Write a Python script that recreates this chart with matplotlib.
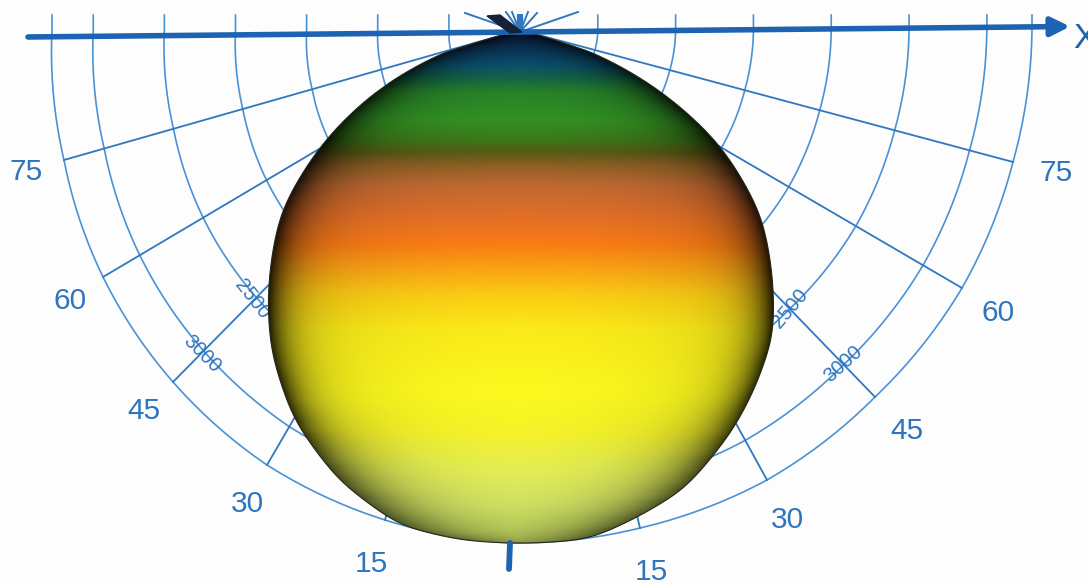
import numpy as np
import matplotlib
matplotlib.use('Agg')
import matplotlib.pyplot as plt
from matplotlib.patches import PathPatch
from matplotlib.path import Path

plt.rcParams['font.family'] = ['Liberation Sans', 'DejaVu Sans']

# polar grid centre in picture coordinates
cx, cy = 520, 30

ring_values = [500, 1000, 1500, 2000, 2500, 3000, 3290]
rim_value = 3290

# where the outer ring sits for each spoke (-90 .. 90, every 15 deg)
rim_dx = [-468, -456, -417, -347, -253, -135, -10, 120, 247, 355, 442, 493, 512]
rim_dy = [0, 130, 247, 352, 435, 490, 513, 498, 450, 367, 258, 132, 0]

# balloon outline: angle from straight down and radius
pattern_angle = [-90, -75, -73.2, -67.2, -60.4, -52.8, -43, -37.8, -30, -21.8, -13.6, -6.7, 0,
                 7.8, 13.9, 19.6, 28.1, 32.8, 39.6, 44.2, 52.4, 60.2, 66.5, 72.6, 75, 90]
pattern_radius = [2, 6, 79, 150, 223, 298, 369, 405, 450, 485, 509, 513, 513,
                  513, 500, 487, 452, 430, 396, 363, 303, 227, 150, 73, 6, 2]

# colour bands of the balloon by picture row
band_y = [32, 45, 65, 78, 92, 120, 140, 152, 165, 185, 215, 245, 270, 295, 330, 390, 430, 470, 505, 530, 545]
band_r = [15, 10, 10, 20, 40, 50, 60, 85, 140, 190, 225, 250, 250, 250, 250, 252, 245, 228, 208, 188, 165]
band_g = [25, 45, 80, 100, 130, 145, 120, 90, 95, 105, 110, 125, 165, 205, 235, 248, 243, 238, 226, 206, 182]
band_b = [45, 80, 110, 70, 40, 35, 25, 20, 35, 50, 40, 20, 20, 20, 25, 30, 40, 85, 100, 90, 85]

# edge darkening by row: darkest value and how far in it reaches
edge_y = [32, 150, 300, 400, 480, 545]
edge_floor = [0.15, 0.12, 0.12, 0.15, 0.3, 0.42]
edge_scale = [24, 26, 20, 22, 34, 44]

left_labels = ['75', '60', '45', '30', '15']
left_label_x = [26, 70, 144, 247, 371]
left_label_y = [172, 301, 411, 504, 564]
right_labels = ['75', '60', '45', '30', '15']
right_label_x = [1056, 998, 907, 787, 651]
right_label_y = [173, 313, 431, 520, 572]

fan_dx = [-55, -14, -8, 8, 17, 58]
fan_dy = [-17, -18, -18, -18, -17, -18]
flame_x = [487, 500, 522, 510]
flame_y = [16, 15, 32, 33]

ring_color = '#4a92d6'
spoke_color = '#2f78c0'
axis_color = '#1c63b2'
label_color = '#2f75bd'

fig = plt.figure(figsize=(10.88, 5.84), dpi=100, facecolor='#fdfdfd')
ax = fig.add_axes([0, 0, 1, 1])
ax.set_xlim(0, 1088)
ax.set_ylim(584, 0)
ax.axis('off')

rim_angle = np.arctan2(rim_dx, rim_dy)
rim_radius = np.hypot(rim_dx, rim_dy)
a = np.linspace(rim_angle[0], rim_angle[-1], 240)
r = np.interp(a, rim_angle, rim_radius)

# rings, each with its little stub above the x axis
for v in ring_values:
    f = v / rim_value
    xs = cx + f * r * np.sin(a)
    ys = cy + f * r * np.cos(a)
    xs = np.concatenate([[xs[0]], xs, [xs[-1]]])
    ys = np.concatenate([[15], ys, [15]])
    ax.plot(xs, ys, color=ring_color, lw=1.2, zorder=2)

for dx, dy in zip(rim_dx[1:-1], rim_dy[1:-1]):
    ax.plot([cx, cx + dx], [cy, cy + dy], color=spoke_color, lw=1.3, zorder=2)

for dx, dy in zip(fan_dx, fan_dy):
    ax.plot([cx, cx + dx], [cy + 2, cy + dy], color=spoke_color, lw=1.4, zorder=2)
ax.plot([cx, cx], [cy + 2, cy - 16], color=spoke_color, lw=4.5, solid_capstyle='butt', zorder=2)

# balloon outline, rounded off except near the apex
deg = np.linspace(-90, 90, 721)
pr = np.interp(deg, pattern_angle, pattern_radius)
kernel = np.hanning(33)
kernel = kernel / kernel.sum()
smooth = np.convolve(np.pad(pr, 16, mode='edge'), kernel, mode='valid')
pr = np.where(np.abs(deg) < 68, smooth, pr)
pa = np.radians(deg)
out_x = cx + pr * np.sin(pa)
out_y = cy + pr * np.cos(pa)

# balloon colours on a coarse mesh like the original
step = 4
rows = np.arange(28, 548, step) + step / 2
cols = np.arange(264, 778, step) + step / 2
img = np.ones((len(rows), len(cols), 3))
for i, y in enumerate(rows):
    near = np.abs(out_y - y) < 3
    if not near.any():
        near = np.abs(out_y - y) < np.abs(out_y - y).min() + 1
    x0, x1 = out_x[near].min(), out_x[near].max()
    mid = (x0 + x1) / 2
    half = max((x1 - x0) / 2, 1)
    dist = np.clip(half - np.abs(cols - mid), 0, None)
    floor = np.interp(y, edge_y, edge_floor)
    scale = np.interp(y, edge_y, edge_scale)
    shade = 1 - (1 - floor) * np.exp(-dist / scale)
    shade = shade * (1 - 0.1 * ((cols - mid) / half) ** 2)
    for c, band in enumerate([band_r, band_g, band_b]):
        img[i, :, c] = np.interp(y, band_y, band) / 255 * shade

outline = Path(np.column_stack([out_x, out_y]))
im = ax.imshow(img, extent=[264, 264 + step * len(cols), 28 + step * len(rows), 28],
               interpolation='bilinear', aspect='auto', zorder=3)
patch = PathPatch(outline, facecolor='none', edgecolor='none', transform=ax.transData)
ax.add_patch(patch)
im.set_clip_path(patch)
ax.plot(out_x, out_y, color='#26261a', lw=0.8, zorder=4)
ax.set_xlim(0, 1088)
ax.set_ylim(584, 0)

# x axis and the stub of the z axis
ax.annotate('', xy=(1070, 26.5), xytext=(28, 37), zorder=5,
            arrowprops=dict(arrowstyle='-|>', color=axis_color, lw=4, mutation_scale=28,
                            shrinkA=0, shrinkB=0))
ax.plot([510, 509], [543, 569], color=axis_color, lw=4.2, solid_capstyle='round', zorder=5)
ax.fill(flame_x, flame_y, color='#16223a', zorder=6)

for lab, x, y in zip(left_labels, left_label_x, left_label_y):
    ax.text(x, y, lab, color=label_color, fontsize=21.5, ha='center', va='center')
for lab, x, y in zip(right_labels, right_label_x, right_label_y):
    ax.text(x, y, lab, color=label_color, fontsize=21.5, ha='center', va='center')

ax.text(252, 299, '2500', color=label_color, fontsize=14.5, rotation=-52, ha='center', va='center', rotation_mode='anchor', zorder=2)
ax.text(202, 354, '3000', color=label_color, fontsize=14.5, rotation=-45, ha='center', va='center', rotation_mode='anchor', zorder=2)
ax.text(790, 308, '2500', color=label_color, fontsize=14.5, rotation=50, ha='center', va='center', rotation_mode='anchor', zorder=2)
ax.text(843, 364, '3000', color=label_color, fontsize=14.5, rotation=42, ha='center', va='center', rotation_mode='anchor', zorder=2)
ax.text(1073, 38, 'X', color=axis_color, fontsize=25, ha='left', va='center', clip_on=False)

fig.savefig('out.png', dpi=100, facecolor=fig.get_facecolor())
